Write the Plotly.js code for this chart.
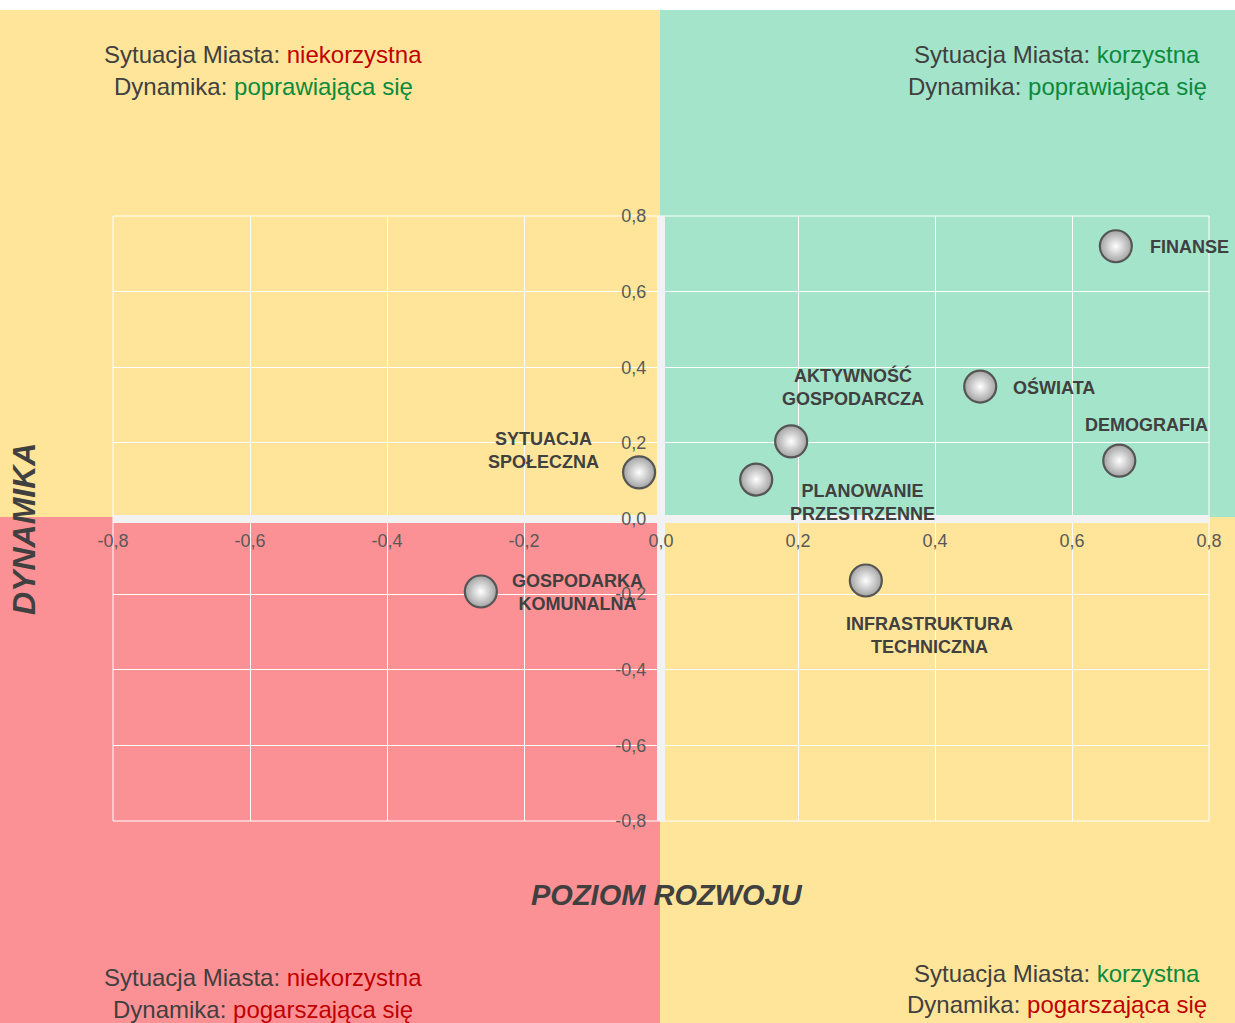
<!DOCTYPE html>
<html>
<head>
<meta charset="utf-8">
<script src="https://cdn.plot.ly/plotly-3.0.1.min.js"></script>
<style>html,body{margin:0;padding:0;background:#fff;}#chart{width:1235px;height:1023px;}</style>
</head>
<body>
<div id="chart"></div>
<script>
// ---- data ----
const categories = ['FINANSE', 'OŚWIATA', 'DEMOGRAFIA', 'AKTYWNOŚĆ GOSPODARCZA', 'PLANOWANIE PRZESTRZENNE', 'SYTUACJA SPOŁECZNA', 'GOSPODARKA KOMUNALNA', 'INFRASTRUKTURA TECHNICZNA'];
const poziomRozwoju = [0.664, 0.466, 0.669, 0.19, 0.139, -0.032, -0.263, 0.299];
const dynamika = [0.72, 0.349, 0.153, 0.204, 0.103, 0.122, -0.193, -0.164];
const tickVals = [-0.8, -0.6, -0.4, -0.2, 0.0, 0.2, 0.4, 0.6, 0.8];
const tickLabels = ['-0,8', '-0,6', '-0,4', '-0,2', '0,0', '0,2', '0,4', '0,6', '0,8'];

// ---- label placement (style) ----
const labelStyle = {
  'FINANSE': {dx: 32, dy: -1, anchor: 'left'},
  'OŚWIATA': {dx: 31, dy: -1, anchor: 'left'},
  'DEMOGRAFIA': {dx: 27, dy: 36, anchor: 'center'},
  'AKTYWNOŚĆ GOSPODARCZA': {dx: 62, dy: 54, anchor: 'center'},
  'PLANOWANIE PRZESTRZENNE': {dx: 106, dy: -23, anchor: 'center'},
  'SYTUACJA SPOŁECZNA': {dx: -96, dy: 22, anchor: 'center'},
  'GOSPODARKA KOMUNALNA': {dx: 97, dy: -1, anchor: 'center'},
  'INFRASTRUKTURA TECHNICZNA': {dx: 64, dy: -55, anchor: 'center'}
};

const RED = '#C00000', GREEN = '#0B8A3C', GRAY = '#404040';
const W = 1235, H = 1023, L = 113, R = 26, T = 216, B = 202;
const pw = W - L - R, ph = H - T - B;
const px = v => (v - L) / pw;          // pixel x -> paper
const py = v => (H - B - v) / ph;      // pixel y -> paper
const FONT = 'Liberation Sans, Arial, sans-serif';

const trace = {
  type: 'scatter', mode: 'markers',
  x: poziomRozwoju, y: dynamika, text: categories,
  hoverinfo: 'text',
  marker: {
    size: 32, color: '#a2a2a2',
    gradient: {type: 'radial', color: '#ffffff'},
    line: {color: '#555555', width: 2.2}
  },
  showlegend: false
};

const annotations = categories.map((c, i) => {
  const s = labelStyle[c];
  return {
    xref: 'x', yref: 'y', x: poziomRozwoju[i], y: dynamika[i],
    text: c.replace(' ', '<br>'), showarrow: false,
    xanchor: s.anchor, yanchor: 'middle', align: 'center',
    xshift: s.dx, yshift: s.dy,
    font: {family: FONT, size: 18, color: GRAY, weight: 'bold'}
  };
});

function qText(text, cx, cy) {
  return {xref: 'paper', yref: 'paper', x: px(cx), y: py(cy), xanchor: 'center', yanchor: 'middle',
    showarrow: false, text: text,
    font: {family: FONT, size: 24, color: GRAY}};
}
const span = (t, c) => '<span style="color:' + c + '">' + t + '</span>';
annotations.push(
  qText('Sytuacja Miasta: ' + span('niekorzystna', RED), 263, 54),
  qText('Dynamika: ' + span('poprawiająca się', GREEN), 263, 86),
  qText('Sytuacja Miasta: ' + span('korzystna', GREEN), 1057, 54),
  qText('Dynamika: ' + span('poprawiająca się', GREEN), 1057, 86),
  qText('Sytuacja Miasta: ' + span('niekorzystna', RED), 263, 977),
  qText('Dynamika: ' + span('pogarszająca się', RED), 263, 1009),
  qText('Sytuacja Miasta: ' + span('korzystna', GREEN), 1057, 973),
  qText('Dynamika: ' + span('pogarszająca się', RED), 1057, 1004),
  {xref: 'paper', yref: 'paper', x: px(667), y: py(895), xanchor: 'center', yanchor: 'middle', showarrow: false,
   text: '<b><i>POZIOM ROZWOJU</i></b>', font: {family: FONT, size: 29, color: GRAY}},
  {xref: 'paper', yref: 'paper', x: px(24), y: py(529), xanchor: 'center', yanchor: 'middle', showarrow: false, textangle: -90,
   text: '<b><i>DYNAMIKA</i></b>', font: {family: FONT, size: 32, color: GRAY}}
);

const YEL = '#FFE599', GRN = '#A4E4CA', RD = '#FC9195';
const topY = py(10), botY = -0.5, leftX = -0.2, rightX = 1.2, midX = px(660), midY = py(517);
const shapes = [
  {type: 'rect', xref: 'paper', yref: 'paper', x0: leftX, x1: midX, y0: midY, y1: topY, fillcolor: YEL, line: {width: 0}, layer: 'below'},
  {type: 'rect', xref: 'paper', yref: 'paper', x0: midX, x1: rightX, y0: midY, y1: topY, fillcolor: GRN, line: {width: 0}, layer: 'below'},
  {type: 'rect', xref: 'paper', yref: 'paper', x0: leftX, x1: midX, y0: botY, y1: midY, fillcolor: RD, line: {width: 0}, layer: 'below'},
  {type: 'rect', xref: 'paper', yref: 'paper', x0: midX, x1: rightX, y0: botY, y1: midY, fillcolor: YEL, line: {width: 0}, layer: 'below'},
  {type: 'rect', xref: 'paper', yref: 'paper', x0: 0, x1: 1, y0: 0, y1: 1, fillcolor: 'rgba(0,0,0,0)', line: {width: 1, color: '#ffffff'}, layer: 'below'}
];

const axisCommon = {
  range: [-0.8, 0.8], tickmode: 'array', tickvals: tickVals, ticktext: tickLabels,
  showgrid: true, gridcolor: '#ffffff', gridwidth: 1,
  zeroline: true, zerolinecolor: '#F2F2F2', zerolinewidth: 8,
  showline: false, ticks: 'outside', tickcolor: 'rgba(0,0,0,0)',
  tickfont: {family: FONT, size: 18, color: '#595959'},
  anchor: 'free', position: 0.5, fixedrange: true
};

const layout = {
  width: W, height: H,
  margin: {l: L, r: R, t: T, b: B},
  paper_bgcolor: '#ffffff', plot_bgcolor: 'rgba(0,0,0,0)',
  xaxis: Object.assign({}, axisCommon, {ticklen: 6}),
  yaxis: Object.assign({}, axisCommon, {ticklen: 11}),
  shapes: shapes, annotations: annotations,
  showlegend: false
};

Plotly.newPlot('chart', [trace], layout, {displayModeBar: false, staticPlot: true});
</script>
</body>
</html>
